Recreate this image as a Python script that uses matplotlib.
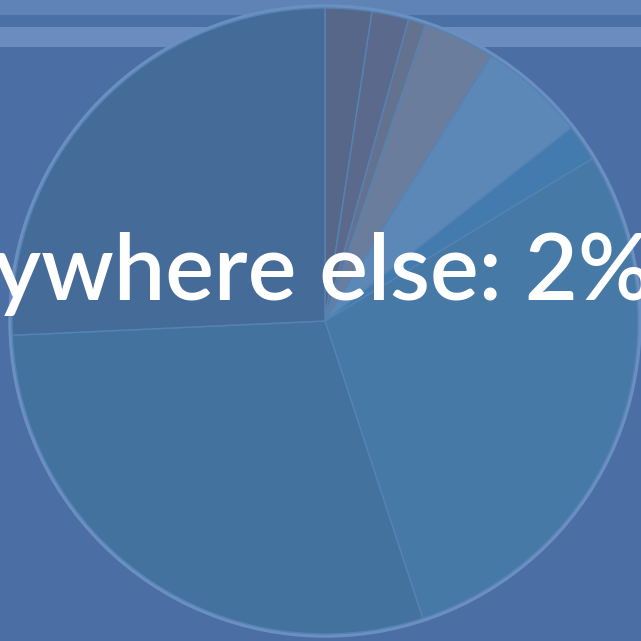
import matplotlib.pyplot as plt
from matplotlib.patches import Circle

# slice shares, clockwise from 12 o'clock
shares = [2.4, 1.9, 0.9, 3.7, 5.5, 1.9, 28.6, 29.3, 25.7]
slice_colors = ['#56678a', '#5b6a8c', '#64728f', '#6b7d9c', '#5b88b6',
                '#447bae', '#4779a6', '#44729e', '#456b98']
label_text = 'Anywhere else: 2%'

bg = '#4b6fa4'
W = H = 641

fig = plt.figure(figsize=(6.41, 6.41), dpi=100)
fig.patch.set_facecolor(bg)
ax = fig.add_axes([0, 0, 1, 1])
ax.set_facecolor(bg)

# header stripes (pixel rows from the top)
ax.axhspan(H - 15, H, color='#5f83b5', lw=0)
ax.axhspan(H - 27, H - 15, color='#4a70a5', lw=0)
ax.axhspan(H - 47, H - 27, color='#6a8dbd', lw=0)

cx, cy, r = 325, H - 321, 313

# soft outer rim
ax.add_patch(Circle((cx, cy), r + 2, facecolor='none', edgecolor='#6a8fc0', lw=2.5, zorder=1))

ax.pie(shares, colors=slice_colors, startangle=90, counterclock=False,
       center=(cx, cy), radius=r, frame=True,
       wedgeprops=dict(edgecolor='#5583b4', linewidth=1.0))
ax.set_xlim(0, W)
ax.set_ylim(0, H)
ax.set_aspect('equal')
ax.axis('off')

ax.text(652, H - 300, label_text, ha='right', va='baseline', color='white',
        fontsize=66, family='Lato', fontweight='semibold', zorder=5)

plt.savefig('out.png', dpi=100, facecolor=bg)
